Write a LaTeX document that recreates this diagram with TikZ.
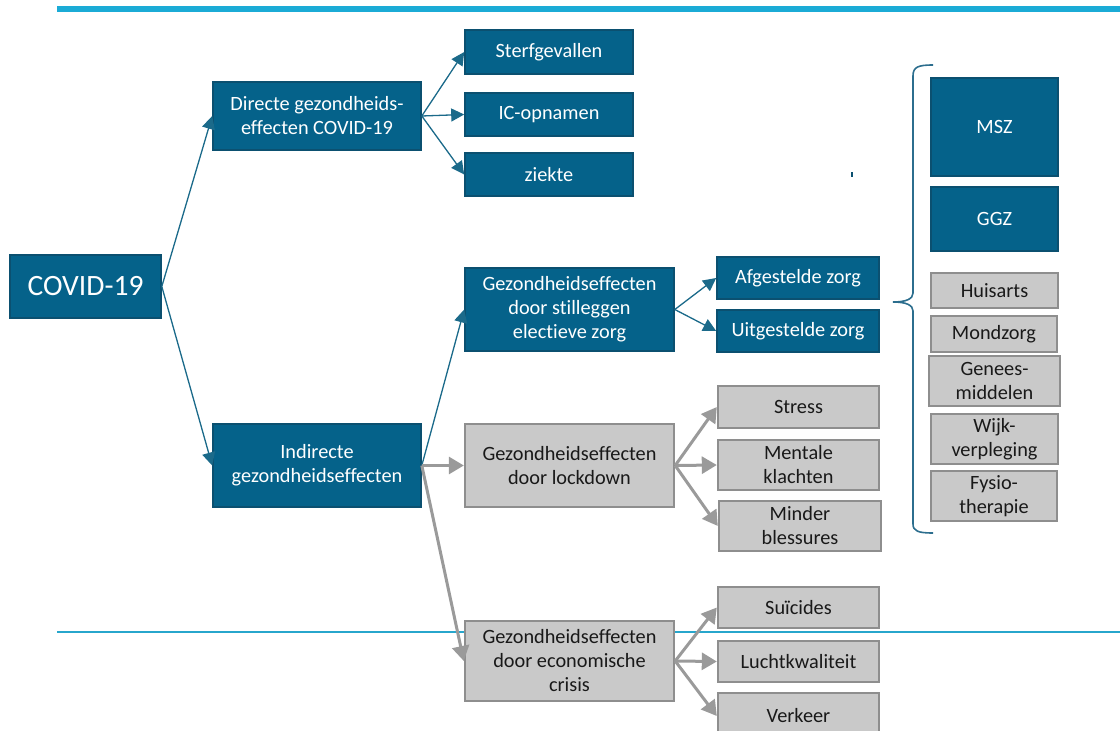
\documentclass[tikz,border=0pt]{standalone}
\usepackage{fontspec}
\setmainfont{Carlito}[Ligatures=NoCommon]
\usetikzlibrary{arrows.meta}
\definecolor{boxblue}{HTML}{05628A}
\definecolor{boxblueedge}{HTML}{0B5070}
\definecolor{arrblue}{HTML}{1B6A8A}
\definecolor{boxgrey}{HTML}{C9C9C9}
\definecolor{boxgreyedge}{HTML}{8E8E8E}
\definecolor{arrgrey}{HTML}{9A9A9A}
\definecolor{lineblue}{HTML}{1BABD6}
\definecolor{thinblue}{HTML}{27A6CC}
\definecolor{bracketblue}{HTML}{2C6E8E}
\tikzset{
  basebox/.style={rectangle, inner sep=0pt, align=center, line width=1.6pt,
    font=\fontsize{20.3}{24}\selectfont},
  bbox/.style={basebox, fill=boxblue, draw=boxblueedge, text=white},
  gbox/.style={basebox, fill=boxgrey, draw=boxgreyedge, line width=2.4pt, text=black!90},
  barrow/.style={draw=arrblue, line width=1.3pt, -{Triangle[length=13pt,width=13pt]}, fill=arrblue},
  garrow/.style={draw=arrgrey, line width=3pt, -{Triangle[length=15pt,width=17pt]}, fill=arrgrey},
}
\begin{document}
\begin{tikzpicture}[x=1pt,y=1pt]
\useasboundingbox (0,0) rectangle (1120,-731);
% decorative lines
\fill[lineblue] (57,-6) rectangle (1120,-12);
\draw[thinblue, line width=2pt] (57,-632) -- (1120,-632);
% stray mark
\fill[boxblueedge] (851,-172) rectangle (853,-177);

% blue boxes
\node[bbox, minimum width=151pt, minimum height=63pt, font=\fontsize{29.5}{34}\selectfont] (covid) at (85.5,-286.5) {COVID-19};
\node[bbox, minimum width=208pt, minimum height=68pt] (dir) at (317,-116) {Directe gezondheids-\\effecten COVID-19};
\node[bbox, minimum width=168pt, minimum height=44pt] (sterf) at (549,-52) {Sterfgevallen};
\node[bbox, minimum width=168pt, minimum height=43pt] (ic) at (549,-114.5) {IC-opnamen};
\node[bbox, minimum width=168pt, minimum height=43pt] (ziek) at (549,-174.5) {ziekte};
\node[bbox, minimum width=208pt, minimum height=83pt] (ind) at (317,-465.5) {Indirecte\\gezondheidseffecten};
\node[bbox, minimum width=209pt, minimum height=83pt] (stil) at (569.5,-309.5) {Gezondheidseffecten\\door stilleggen\\electieve zorg};
\node[bbox, minimum width=162pt, minimum height=42pt] (afg) at (798,-278) {Afgestelde zorg};
\node[bbox, minimum width=162pt, minimum height=42pt] (uitg) at (798,-331) {Uitgestelde zorg};
\node[bbox, minimum width=127pt, minimum height=98pt] (msz) at (994.5,-127) {MSZ};
\node[bbox, minimum width=127pt, minimum height=64pt] (ggz) at (994.5,-219) {GGZ};

% grey boxes
\node[gbox, minimum width=209pt, minimum height=83pt] (lock) at (569.5,-465.5) {Gezondheidseffecten\\door lockdown};
\node[gbox, minimum width=161pt, minimum height=42pt] (stress) at (798.5,-407) {Stress};
\node[gbox, minimum width=161pt, minimum height=50pt] (ment) at (798.5,-465) {Mentale\\klachten};
\node[gbox, minimum width=162pt, minimum height=50pt] (mind) at (800,-526) {Minder\\blessures};
\node[gbox, minimum width=209pt, minimum height=80pt] (crisis) at (569.5,-661) {Gezondheidseffecten\\door economische\\crisis};
\node[gbox, minimum width=161pt, minimum height=41pt] (suic) at (798.5,-607.5) {Suïcides};
\node[gbox, minimum width=161pt, minimum height=41pt] (lucht) at (798.5,-661.5) {Luchtkwaliteit};
\node[gbox, minimum width=161pt, minimum height=46pt] (verk) at (798.5,-716) {Verkeer};
\node[gbox, minimum width=127pt, minimum height=35pt] (huis) at (994.5,-290.5) {Huisarts};
\node[gbox, minimum width=126pt, minimum height=36pt] (mond) at (994,-334) {Mondzorg};
\node[gbox, minimum width=131pt, minimum height=50pt] (gen) at (994.5,-381) {Genees-\\middelen};
\node[gbox, minimum width=127pt, minimum height=50pt] (wijk) at (994.5,-439) {Wijk-\\verpleging};
\node[gbox, minimum width=126pt, minimum height=50pt] (fys) at (994,-496) {Fysio-\\therapie};

% connectors
\draw[barrow] (covid.east) -- (dir.west);
\draw[barrow] (covid.east) -- (ind.west);
\draw[barrow] (dir.east) -- (sterf.west);
\draw[barrow] (dir.east) -- (ic.west);
\draw[barrow] (dir.east) -- (ziek.west);
\draw[barrow] (ind.east) -- (stil.west);
\draw[barrow] (stil.east) -- (afg.west);
\draw[barrow] (stil.east) -- (uitg.west);
\draw[garrow] (ind.east) -- (lock.west);
\draw[garrow] (ind.east) -- (crisis.west);
\draw[garrow] (lock.east) -- (stress.west);
\draw[garrow] (lock.east) -- (ment.west);
\draw[garrow] (lock.east) -- (mind.west);
\draw[garrow] (crisis.east) -- (suic.west);
\draw[garrow] (crisis.east) -- (lucht.west);
\draw[garrow] (crisis.east) -- (verk.west);

% brace
\draw[bracketblue, line width=1.6pt]
  (933,-65) .. controls (918,-65) and (913,-67) .. (913,-76)
  -- (913,-293) .. controls (913,-299) and (906,-302) .. (893,-302)
  .. controls (906,-302) and (913,-305) .. (913,-311)
  -- (913,-524) .. controls (913,-531) and (918,-533) .. (933,-533);
\end{tikzpicture}
\end{document}
